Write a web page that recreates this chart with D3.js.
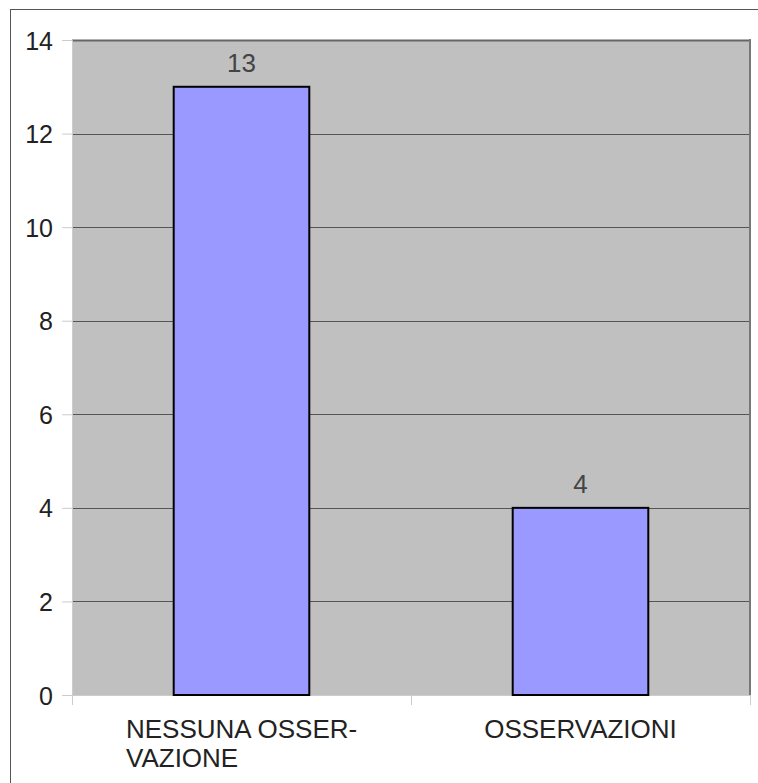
<!DOCTYPE html>
<html><head><meta charset="utf-8">
<script src="https://cdn.jsdelivr.net/npm/d3@7"></script>
<style>body{margin:0;background:#fff}svg{display:block}</style>
</head><body>
<script>
const categories = ["NESSUNA OSSER-|VAZIONE", "OSSERVAZIONI"];
const values = [13, 4];
const yTicks = [0, 2, 4, 6, 8, 10, 12, 14];

(function () {
const W = 758, H = 783;
const FS = 26;
const svg = d3.select("body").append("svg").attr("width", W).attr("height", H)
  .style("font-family", "'Liberation Sans', Arial, sans-serif");

// outer frame
svg.append("rect").attr("x", 10.5).attr("y", 9.5).attr("width", 760).attr("height", 800)
  .attr("fill", "none").attr("stroke", "#555").attr("stroke-width", 1);

const pL = 72, pR = 750, pT = 40, pB = 695;
const x = d3.scaleBand().domain(categories).range([pL, pR]).paddingInner(0).paddingOuter(0);
const y = d3.scaleLinear().domain([0, 14]).range([pB, pT]);

svg.append("rect").attr("x", pL).attr("y", pT).attr("width", pR - pL).attr("height", pB - pT)
  .attr("fill", "#c0c0c0");

// gridlines
svg.append("g").selectAll("line").data(yTicks.filter(d => d > 0)).join("line")
  .attr("x1", pL).attr("x2", pR).attr("y1", d => Math.round(y(d)) + 0.5).attr("y2", d => Math.round(y(d)) + 0.5)
  .attr("stroke", d => d === 14 ? "#666" : "#555").attr("stroke-width", d => d === 14 ? 2 : 1);
// right border
svg.append("line").attr("x1", pR).attr("x2", pR).attr("y1", pT - 1).attr("y2", pB)
  .attr("stroke", "#777").attr("stroke-width", 2);

// y axis
const yAxis = d3.axisLeft(y).tickValues(yTicks).tickSize(10).tickPadding(9);
const ya = svg.append("g").attr("transform", `translate(${pL},0)`).call(yAxis);
ya.attr("font-size", FS - 1).attr("font-family", "'Liberation Sans', Arial, sans-serif");
ya.select(".domain").attr("stroke", "#ccc");
ya.selectAll(".tick line").attr("stroke", "#ccc");
ya.selectAll("text").attr("fill", "#222").attr("dy", "0.36em");

// x axis
const xa = svg.append("g").attr("transform", `translate(0,${pB})`);
xa.append("line").attr("x1", pL).attr("x2", pR).attr("y1", 0.5).attr("y2", 0.5).attr("stroke", "#ccc");
const xEdges = [pL, ...categories.map(c => x(c) + x.bandwidth())];
xa.selectAll("line.t").data(xEdges).join("line").attr("class", "t")
  .attr("x1", d => d + 0.5).attr("x2", d => d + 0.5).attr("y1", 0).attr("y2", 10).attr("stroke", "#ccc");

// bars
const bw = x.bandwidth() * 0.4;
svg.append("g").selectAll("rect").data(values).join("rect")
  .attr("x", (d, i) => x(categories[i]) + (x.bandwidth() - bw) / 2)
  .attr("y", d => y(d))
  .attr("width", bw).attr("height", d => y(0) - y(d))
  .attr("fill", "#9999ff").attr("stroke", "#000").attr("stroke-width", 2);

// value labels
svg.append("g").selectAll("text").data(values).join("text")
  .attr("x", (d, i) => x(categories[i]) + x.bandwidth() / 2)
  .attr("y", d => y(d) - 15)
  .attr("text-anchor", "middle").attr("font-size", FS).attr("fill", "#444")
  .text(d => d);

// category labels
categories.forEach((c, i) => {
  const lines = c.split("|");
  const t = svg.append("text").attr("font-size", FS).attr("fill", "#222");
  const cx = x(c) + x.bandwidth() / 2;
  if (lines.length > 1) {
    t.attr("text-anchor", "start");
    lines.forEach((l, j) => t.append("tspan").attr("x", 126).attr("y", 738 + j * 29).text(l));
  } else {
    t.attr("text-anchor", "middle").attr("x", cx).attr("y", 738).text(lines[0]);
  }
});
})();
</script>
</body></html>
